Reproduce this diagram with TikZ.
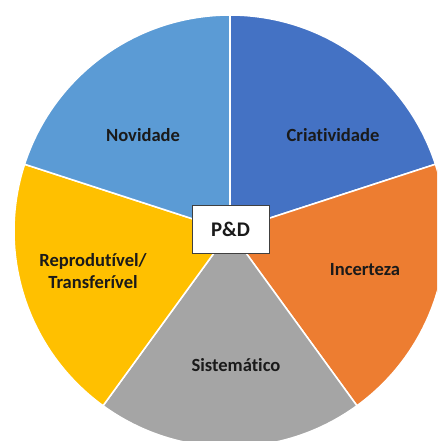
\documentclass[tikz,border=0pt]{standalone}
\usepackage{fontspec}
\setmainfont{Carlito}[Ligatures=NoCommon]
\definecolor{criablue}{HTML}{4472C4}
\definecolor{novblue}{HTML}{5B9BD5}
\definecolor{incorange}{HTML}{ED7D31}
\definecolor{sisgray}{HTML}{A5A5A5}
\definecolor{repyellow}{HTML}{FFC000}
\definecolor{labeltext}{HTML}{1A1A1A}
\begin{document}
\begin{tikzpicture}[x=0.025cm,y=0.025cm,
  slice/.style={draw=white,line width=1.1pt},
  label/.style={font=\fontsize{13.2}{16}\selectfont\bfseries,text=labeltext,align=center},
  centre/.style={draw=black!75,fill=white,line width=0.5pt,minimum width=1.925cm,minimum height=1.2cm,font=\fontsize{14.8}{17}\selectfont\bfseries,text=labeltext}]
\clip (0,0) rectangle (437,441);
\fill[white] (0,0) rectangle (437,441);
\coordinate (c) at (230,210);
\filldraw[slice,fill=criablue] (c) -- ++(90:216) arc[start angle=90,end angle=18,radius=216] -- cycle;
\filldraw[slice,fill=incorange] (c) -- ++(18:216) arc[start angle=18,end angle=-54,radius=216] -- cycle;
\filldraw[slice,fill=sisgray] (c) -- ++(-54:216) arc[start angle=-54,end angle=-126,radius=216] -- cycle;
\filldraw[slice,fill=repyellow] (c) -- ++(-126:216) arc[start angle=-126,end angle=-198,radius=216] -- cycle;
\filldraw[slice,fill=novblue] (c) -- ++(162:216) arc[start angle=162,end angle=90,radius=216] -- cycle;
\node[label] at (143,306) (nov) {Novidade};
\node[label] at (333,306) (cria) {Criatividade};
\node[label] at (93,170) (rep) {Reprodutível/\\Transferível};
\node[label] at (365,171) (inc) {Incerteza};
\node[label] at (236,76) (sis) {Sistemático};
\node[centre] at (230.5,212) (pd) {P\&D};
\end{tikzpicture}
\end{document}
